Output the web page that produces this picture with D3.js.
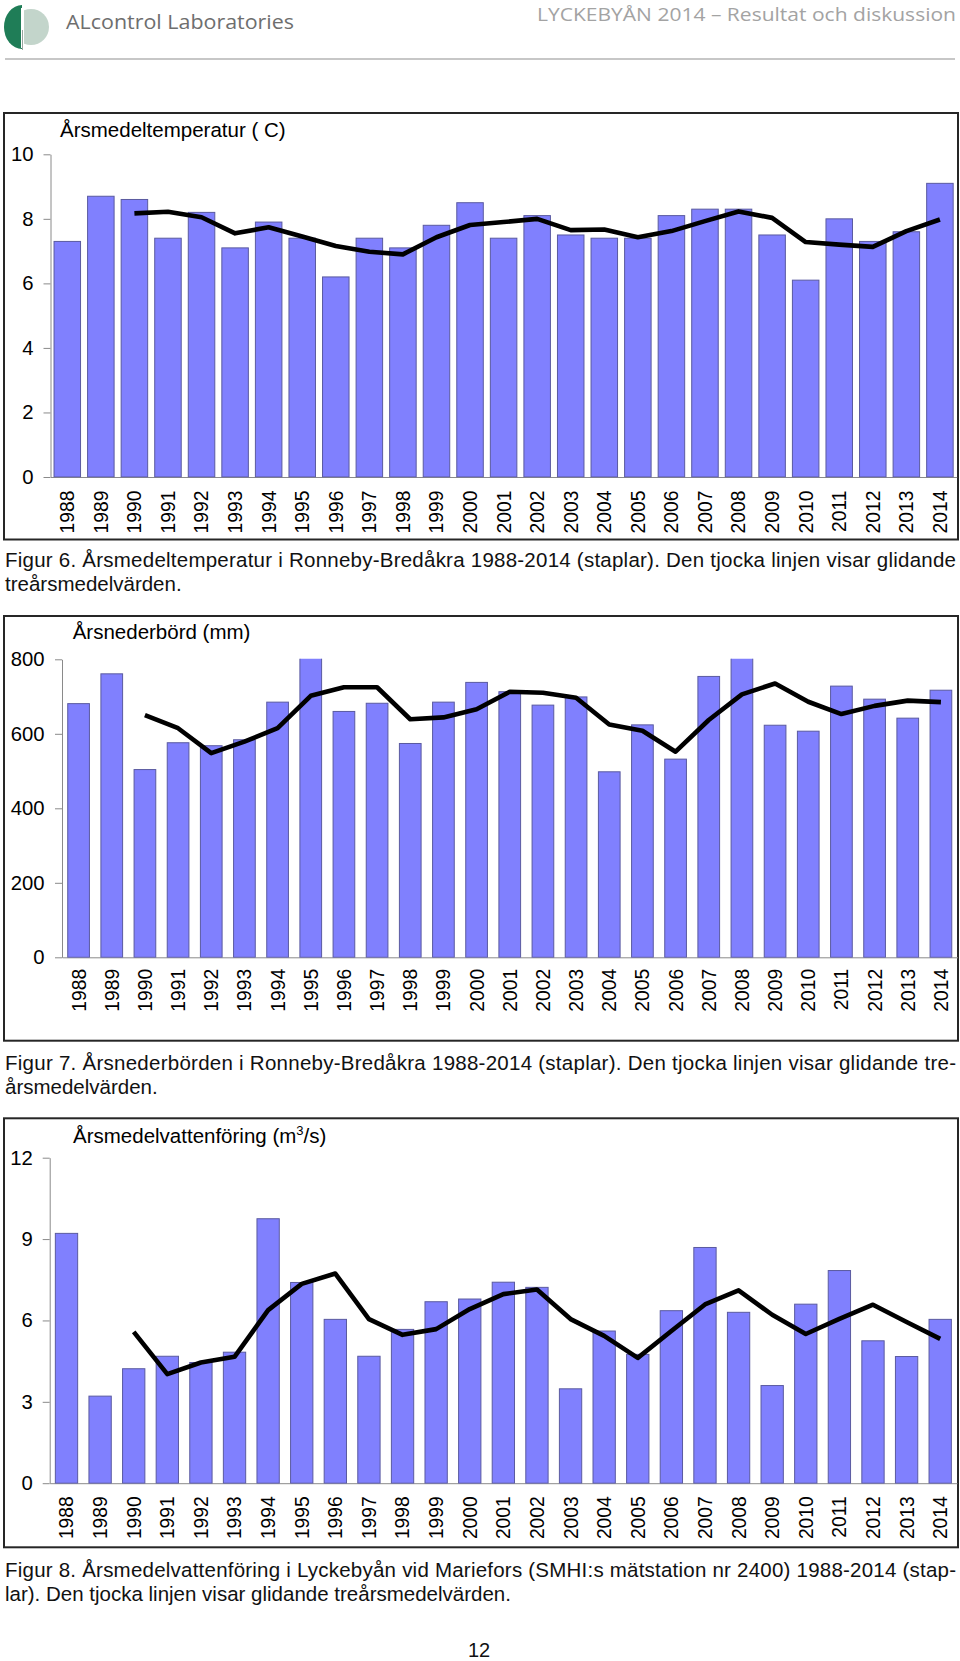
<!DOCTYPE html>
<html>
<head>
<meta charset="utf-8">
<script src="https://cdn.jsdelivr.net/npm/d3@7"></script>
<style>
  body { margin: 0; background: #fff; }
  svg { display: block; }
</style>
</head>
<body>
<svg id="page" width="960" height="1661"></svg>
<script>
// ---------- DATA ----------
const years = ["1988","1989","1990","1991","1992","1993","1994","1995","1996","1997","1998","1999","2000",
               "2001","2002","2003","2004","2005","2006","2007","2008","2009","2010","2011","2012","2013","2014"];
const avgYears = ["1990","1991","1992","1993","1994","1995","1996","1997","1998","1999","2000",
               "2001","2002","2003","2004","2005","2006","2007","2008","2009","2010","2011","2012","2013","2014"];

const tempValues = [7.3,8.7,8.6,7.4,8.2,7.1,7.9,7.4,6.2,7.4,7.1,7.8,8.5,7.4,8.1,7.5,7.4,7.4,8.1,8.3,8.3,7.5,6.1,8.0,7.3,7.6,9.1];
const tempAvg    = [8.17,8.22,8.05,7.55,7.74,7.45,7.16,6.98,6.90,7.43,7.81,7.90,8.00,7.65,7.67,7.43,7.62,7.93,8.23,8.03,7.28,7.20,7.13,7.62,7.98];
const tempTicks  = [0,2,4,6,8,10];

const precipValues = [681,761,504,576,568,584,685,833,660,682,574,685,738,713,677,699,498,624,532,754,830,623,607,728,693,642,717];
const precipAvg    = [650,615,548,579,615,702,725,725,639,644,666,713,710,697,625,608,552,637,706,735,686,653,675,689,685];
const precipTicks  = [0,200,400,600,800];

const flowValues = [9.21,3.21,4.22,4.68,4.45,4.83,9.75,7.40,6.04,4.68,5.67,6.69,6.79,7.41,7.22,3.48,5.61,4.75,6.36,8.69,6.30,3.60,6.60,7.84,5.25,4.67,6.04];
const flowAvg    = [5.58,4.02,4.45,4.66,6.38,7.35,7.73,6.05,5.47,5.68,6.42,6.97,7.14,6.05,5.43,4.62,5.61,6.59,7.11,6.21,5.50,6.06,6.58,5.94,5.32];
const flowTicks  = [0,3,6,9,12];

// ---------- TEXTS ----------
const headerLeft = "ALcontrol Laboratories";
const headerRight = "LYCKEBYÅN 2014 – Resultat och diskussion";
const caption1 = ["Figur 6. Årsmedeltemperatur i Ronneby-Bredåkra 1988-2014 (staplar). Den tjocka linjen visar glidande", "treårsmedelvärden."];
const caption2 = ["Figur 7. Årsnederbörden i Ronneby-Bredåkra 1988-2014 (staplar). Den tjocka linjen visar glidande tre-", "årsmedelvärden."];
const caption3 = ["Figur 8. Årsmedelvattenföring i Lyckebyån vid Mariefors (SMHI:s mätstation nr 2400) 1988-2014 (stap-", "lar). Den tjocka linjen visar glidande treårsmedelvärden."];

const FONT = "'Liberation Sans', Arial, Helvetica, sans-serif";
const svg = d3.select("#page");

// ---------- HEADER ----------
const logo = svg.append("g");
logo.append("circle").attr("cx", 31).attr("cy", 27).attr("r", 18).attr("fill", "#c3d5cb");
logo.append("path")
  .attr("d", "M22,5 A18,22 0 0 0 22,49 L22,5 Z")
  .attr("fill", "#1f7d57");
logo.append("rect").attr("x", 21).attr("y", 8).attr("width", 3).attr("height", 40).attr("fill", "#fff");
logo.append("line").attr("x1", 22.5).attr("x2", 22.5).attr("y1", 30).attr("y2", 50).attr("stroke", "#9aa5a0").attr("stroke-width", 1);

svg.append("text").attr("x", 66).attr("y", 28.5)
  .attr("font-family", "'Open Sans', 'Noto Sans', sans-serif").attr("font-size", 20)
  .attr("fill", "#6e6e6e").attr("textLength", 228).attr("lengthAdjust", "spacingAndGlyphs")
  .text(headerLeft);
svg.append("text").attr("x", 537).attr("y", 21)
  .attr("font-family", "'Open Sans', 'Noto Sans', sans-serif").attr("font-size", 18.5)
  .attr("fill", "#a3a3a3").attr("textLength", 419).attr("lengthAdjust", "spacingAndGlyphs")
  .text(headerRight);
svg.append("line").attr("x1", 5).attr("x2", 955).attr("y1", 59).attr("y2", 59)
  .attr("stroke", "#b4b4b4").attr("stroke-width", 1.5);

// ---------- CHART FUNCTION ----------
function drawChart(c) {
  const g = svg.append("g");
  g.append("rect")
    .attr("x", c.box[0]).attr("y", c.box[1])
    .attr("width", c.box[2] - c.box[0]).attr("height", c.box[3] - c.box[1])
    .attr("fill", "none").attr("stroke", "#262626").attr("stroke-width", 2);

  const x = d3.scaleBand().domain(years).range(c.xr).paddingInner(c.pad).paddingOuter(c.pad / 2);
  const y = d3.scaleLinear().domain([0, c.ticks[c.ticks.length - 1]]).range(c.yr);

  const clipId = "clip" + c.id;
  svg.append("clipPath").attr("id", clipId).append("rect")
    .attr("x", c.xr[0]).attr("y", c.yr[1] - 0.5)
    .attr("width", c.xr[1] - c.xr[0]).attr("height", c.yr[0] - c.yr[1] + 1);

  // x axis baseline
  const xAxis = d3.axisBottom(x).tickSize(0).tickSizeOuter(0).tickPadding(0);
  const xa = g.append("g").attr("transform", `translate(0,${c.yr[0]})`).call(xAxis);
  xa.select(".domain").attr("stroke", "#8a8a8a").attr("stroke-width", 1);
  xa.selectAll(".tick text")
    .attr("transform", "rotate(-90)")
    .attr("text-anchor", "end")
    .attr("x", -c.labelGap).attr("y", 0).attr("dy", "0.36em")
    .attr("font-family", FONT).attr("font-size", 19.3).attr("fill", "#000");

  // bars
  g.append("g").attr("clip-path", `url(#${clipId})`)
    .selectAll("rect").data(c.values).join("rect")
    .attr("x", (d, i) => x(years[i]))
    .attr("y", d => y(d))
    .attr("width", x.bandwidth())
    .attr("height", d => y(0) - y(d))
    .attr("fill", "#8080fe")
    .attr("stroke", "#5a5aa0")
    .attr("stroke-width", 1);

  // y axis
  const yAxis = d3.axisLeft(y).tickValues(c.ticks).tickSize(7).tickSizeOuter(0).tickPadding(c.tickPad).tickFormat(d3.format("d"));
  const ya = g.append("g").attr("transform", `translate(${c.xr[0]},0)`).call(yAxis);
  ya.select(".domain").attr("stroke", "#8a8a8a").attr("stroke-width", 1);
  ya.selectAll(".tick line").attr("stroke", "#8a8a8a");
  ya.selectAll(".tick text").attr("font-family", FONT).attr("font-size", 20.3).attr("fill", "#000");

  // moving average line
  const line = d3.line()
    .x((d, i) => x(avgYears[i]) + x.bandwidth() / 2)
    .y(d => y(d));
  g.append("path").datum(c.avg).attr("d", line)
    .attr("fill", "none").attr("stroke", "#000").attr("stroke-width", 4.6)
    .attr("stroke-linejoin", "round").attr("stroke-linecap", "butt");

  // title
  const t = g.append("text").attr("x", c.titleX).attr("y", c.titleY)
    .attr("font-family", FONT).attr("font-size", 20.5).attr("fill", "#000");
  c.title.forEach(part => {
    const ts = t.append("tspan").text(part.t);
    if (part.sup) ts.attr("font-size", 13).attr("dy", -8);
    if (part.after) ts.attr("dy", 8);
  });

  // caption
  c.caption.forEach((line, i) => {
    const txt = g.append("text").attr("x", 5).attr("y", c.capY + i * 23.5)
      .attr("font-family", FONT).attr("font-size", 20.5).attr("fill", "#111")
      .text(line);
    if (i === 0) txt.attr("textLength", 951).attr("lengthAdjust", "spacing");
  });
}

drawChart({
  id: 1, box: [4, 113, 958, 539.5],
  xr: [50.5, 956.7], pad: 0.21, yr: [477, 154.3],
  ticks: tempTicks, values: tempValues, avg: tempAvg,
  labelGap: 13.5, tickPad: 10,
  title: [{t: "Årsmedeltemperatur ( C)"}], titleX: 60, titleY: 137,
  caption: caption1, capY: 567.3
});

drawChart({
  id: 2, box: [4, 616, 958, 1040.7],
  xr: [62, 957.5], pad: 0.346, yr: [957.3, 659.3],
  ticks: precipTicks, values: precipValues, avg: precipAvg,
  labelGap: 11.5, tickPad: 10.5,
  title: [{t: "Årsnederbörd (mm)"}], titleX: 72.7, titleY: 639.3,
  caption: caption2, capY: 1070
});

drawChart({
  id: 3, box: [4, 1118.3, 958, 1547.3],
  xr: [49.7, 957], pad: 0.336, yr: [1483.2, 1157.7],
  ticks: flowTicks, values: flowValues, avg: flowAvg,
  labelGap: 13, tickPad: 10,
  title: [{t: "Årsmedelvattenföring (m"}, {t: "3", sup: true}, {t: "/s)", after: true}], titleX: 73, titleY: 1143.3,
  caption: caption3, capY: 1577.3
});

// page number
svg.append("text").attr("x", 479).attr("y", 1657).attr("text-anchor", "middle")
  .attr("font-family", "'Liberation Sans Narrow', 'Liberation Sans', Arial, sans-serif")
  .attr("font-size", 20).attr("fill", "#111").text("12");
</script>
</body>
</html>
